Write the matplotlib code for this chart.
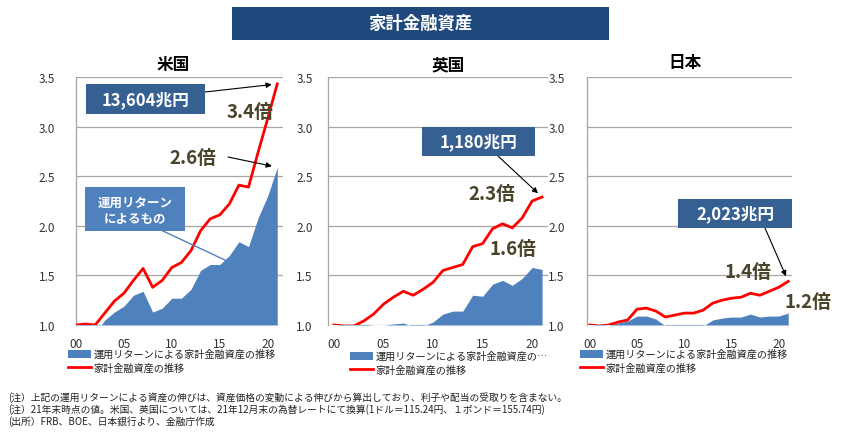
import numpy as np
import matplotlib
matplotlib.use('Agg')
import matplotlib.pyplot as plt
from matplotlib.patches import Rectangle, Patch
from matplotlib.lines import Line2D

plt.rcParams['font.family'] = ['Noto Sans CJK JP', 'DejaVu Sans']

# ---------------- data ----------------
years = list(range(2000, 2022))
tick_years = [2000, 2005, 2010, 2015, 2020]
tick_labels = ['00', '05', '10', '15', '20']
y_ticks = [1.0, 1.5, 2.0, 2.5, 3.0, 3.5]

us_total = [1.00, 1.01, 1.00, 1.12, 1.24, 1.32, 1.45, 1.57, 1.38, 1.45, 1.58, 1.63,
            1.75, 1.95, 2.07, 2.11, 2.22, 2.41, 2.39, 2.74, 3.08, 3.43]
us_return = [1.00, 0.97, 0.92, 1.05, 1.13, 1.19, 1.30, 1.34, 1.13, 1.17, 1.27, 1.27,
             1.36, 1.55, 1.61, 1.61, 1.70, 1.84, 1.79, 2.08, 2.30, 2.59]
uk_total = [1.00, 0.99, 0.99, 1.04, 1.11, 1.21, 1.28, 1.34, 1.30, 1.36, 1.43, 1.55,
            1.58, 1.61, 1.79, 1.82, 1.97, 2.02, 1.98, 2.08, 2.25, 2.29]
uk_return = [1.00, 0.99, 0.98, 0.99, 1.00, 1.00, 1.01, 1.02, 0.98, 0.99, 1.03, 1.11,
             1.14, 1.14, 1.30, 1.29, 1.41, 1.45, 1.40, 1.47, 1.58, 1.56]
jp_total = [1.00, 0.99, 1.00, 1.03, 1.05, 1.16, 1.17, 1.14, 1.08, 1.10, 1.12, 1.12,
            1.15, 1.22, 1.25, 1.27, 1.28, 1.32, 1.30, 1.34, 1.38, 1.44]
jp_return = [1.00, 0.99, 1.00, 1.02, 1.04, 1.09, 1.09, 1.06, 0.99, 0.98, 0.99, 0.99,
             0.99, 1.05, 1.07, 1.08, 1.08, 1.11, 1.08, 1.09, 1.09, 1.12]

panel_titles = ['米国', '英国', '日本']
amount_labels = ['13,604兆円', '1,180兆円', '2,023兆円']
total_mult = ['3.4倍', '2.3倍', '1.4倍']
return_mult = ['2.6倍', '1.6倍', '1.2倍']
legend_return = ['運用リターンによる家計金融資産の推移',
                 '運用リターンによる家計金融資産の…',
                 '運用リターンによる家計金融資産の推移']
legend_total = '家計金融資産の推移'

# ---------------- style ----------------
W, H = 844, 435
BLUE_AREA = '#4f81bd'
RED = '#ff0000'
NAVY = '#1f497d'
BOX = '#376092'
OLIVE = '#4a452a'
GRID = '#a6a6a6'

fig = plt.figure(figsize=(W / 100, H / 100), dpi=100)
fig.patch.set_facecolor('white')


def P(x, y):
    return (x / W, 1 - y / H)


def rect(l, t, r, b):
    return [l / W, 1 - b / H, (r - l) / W, (b - t) / H]


def fbox(l, t, r, b, color):
    fig.add_artist(Rectangle((l / W, 1 - b / H), (r - l) / W, (b - t) / H,
                             transform=fig.transFigure, facecolor=color,
                             edgecolor='none', zorder=5))


def ftxt(x, y, s, **kw):
    kw.setdefault('ha', 'center')
    kw.setdefault('va', 'center')
    fig.text(x / W, 1 - y / H, s, zorder=6, **kw)


# title banner
fbox(232, 8, 609, 41, NAVY)
ftxt(420, 24, '家計金融資産', color='white', fontsize=12.5, fontweight='bold')

panels = [
    dict(data=(us_total, us_return), pos=(76, 78, 283, 326), xlim=(2000, 2021.6),
         ypad=15, title_xy=(173, 65), legend_xy=(68, 350)),
    dict(data=(uk_total, uk_return), pos=(328, 78, 548, 326), xlim=(1999.4, 2021.6),
         ypad=11, title_xy=(448, 65), legend_xy=(350, 352)),
    dict(data=(jp_total, jp_return), pos=(587, 78, 792, 326), xlim=(1999.7, 2021.4),
         ypad=16, title_xy=(685, 63), legend_xy=(580, 350)),
]

axes = []
for i, p in enumerate(panels):
    total, ret = p['data']
    l, t, r, b = p['pos']
    ax = fig.add_axes(rect(l, t, r, b))
    axes.append(ax)
    ax.fill_between(years, 1.0, ret, color=BLUE_AREA, linewidth=0, zorder=2)
    ax.plot(years, total, color=RED, linewidth=2.0, zorder=3)
    ax.set_xlim(*p['xlim'])
    ax.set_ylim(1.0, 3.5)
    ax.set_yticks(y_ticks)
    ax.set_yticklabels([f'{v:.1f}' for v in y_ticks])
    ax.set_xticks(tick_years)
    ax.set_xticklabels(tick_labels)
    ax.yaxis.grid(True, color=GRID, linewidth=0.9, zorder=0)
    ax.set_axisbelow(True)
    for s in ['top', 'right', 'bottom']:
        ax.spines[s].set_visible(False)
    ax.spines['left'].set_color(GRID)
    ax.spines['left'].set_linewidth(0.9)
    ax.tick_params(axis='y', length=0, pad=p['ypad'], labelsize=8.5, labelcolor='#333333')
    ax.tick_params(axis='x', length=0, pad=8.5, labelsize=8.5, labelcolor='#333333')
    ax.patch.set_alpha(0)

    # panel title
    ftxt(*p['title_xy'], panel_titles[i], fontsize=12, fontweight='bold', color='black')

    # legend
    handles = [Patch(facecolor=BLUE_AREA, edgecolor='none'),
               Line2D([0], [0], color=RED, linewidth=2.0)]
    leg = ax.legend(handles, [legend_return[i], legend_total], loc='upper left',
                    bbox_to_anchor=P(*p['legend_xy']), bbox_transform=fig.transFigure,
                    frameon=False, fontsize=7.3, handlelength=2.3, handleheight=0.8,
                    handletextpad=0.2, labelspacing=0.35, borderpad=0, borderaxespad=0)
    for txt in leg.get_texts():
        txt.set_color('#222222')

arrow_kw = dict(arrowstyle='-|>', color='black', lw=0.8, mutation_scale=8,
                shrinkA=0, shrinkB=4)

# ----- US annotations -----
ax = axes[0]
fbox(86, 85, 205, 115, BOX)
ftxt(145.5, 100, amount_labels[0], color='white', fontsize=12, fontweight='bold')
ax.annotate('', xy=(years[-1], us_total[-1]), xycoords='data',
            xytext=P(205, 93), textcoords='figure fraction',
            arrowprops=arrow_kw, annotation_clip=False)
ftxt(250, 113, total_mult[0], color=OLIVE, fontsize=13.5, fontweight='bold')
ftxt(193, 158, return_mult[0], color=OLIVE, fontsize=13.5, fontweight='bold')
ax.annotate('', xy=(years[-1], us_return[-1]), xycoords='data',
            xytext=P(228, 158), textcoords='figure fraction',
            arrowprops=arrow_kw, annotation_clip=False)
fbox(85, 188, 185, 232, BLUE_AREA)
ftxt(135, 203, '運用リターン', color='white', fontsize=9, fontweight='bold')
ftxt(135, 220, 'によるもの', color='white', fontsize=9, fontweight='bold')
fig.add_artist(Line2D([163 / W, 227 / W], [1 - 232 / H, 1 - 262 / H],
                      transform=fig.transFigure, color=BLUE_AREA, linewidth=1.0, zorder=4))

# ----- UK annotations -----
ax = axes[1]
fbox(422, 128, 535, 157, BOX)
ftxt(478.5, 142.5, amount_labels[1], color='white', fontsize=12, fontweight='bold')
ax.annotate('', xy=(years[-1], uk_total[-1]), xycoords='data',
            xytext=P(498, 157), textcoords='figure fraction',
            arrowprops=arrow_kw, annotation_clip=False)
ftxt(492, 195, total_mult[1], color=OLIVE, fontsize=13.5, fontweight='bold')
ftxt(513, 250, return_mult[1], color=OLIVE, fontsize=13.5, fontweight='bold')

# ----- Japan annotations -----
ax = axes[2]
fbox(678, 200, 792, 229, BOX)
ftxt(735, 214.5, amount_labels[2], color='white', fontsize=12, fontweight='bold')
ax.annotate('', xy=(years[-1], jp_total[-1]), xycoords='data',
            xytext=P(765, 229), textcoords='figure fraction',
            arrowprops=arrow_kw, annotation_clip=False)
ftxt(748, 272, total_mult[2], color=OLIVE, fontsize=13.5, fontweight='bold')
ftxt(808, 303, return_mult[2], color=OLIVE, fontsize=13.5, fontweight='bold')

# ----- footnotes -----
notes = [
    '(注）上記の運用リターンによる資産の伸びは、資産価格の変動による伸びから算出しており、利子や配当の受取りを含まない。',
    '(注）21年末時点の値。米国、英国については、21年12月末の為替レートにて換算(1ドル＝115.24円、１ポンド＝155.74円)',
    '(出所）FRB、BOE、日本銀行より、金融庁作成',
]
for k, s in enumerate(notes):
    ftxt(8, 398 + 12 * k, s, ha='left', fontsize=7, color='#222222')

fig.savefig('out.png', dpi=100)
